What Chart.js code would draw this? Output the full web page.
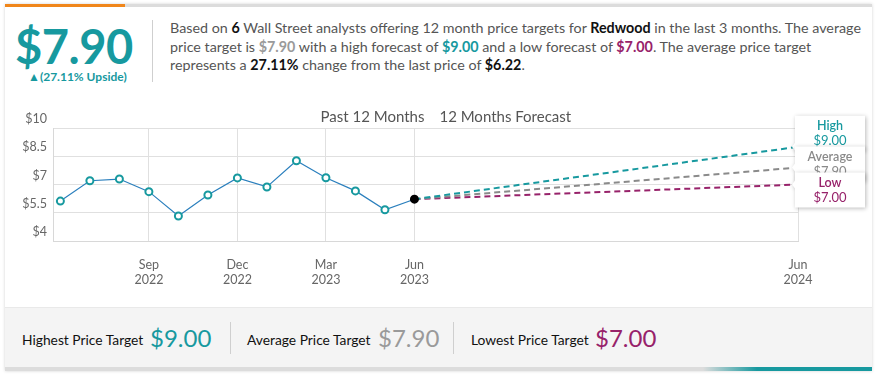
<!DOCTYPE html>
<html>
<head>
<meta charset="utf-8">
<script src="https://cdn.jsdelivr.net/npm/chart.js@4/dist/chart.umd.min.js"></script>
<style>
  body { margin: 0; background: #fff; font-family: Lato, "Open Sans", sans-serif; width: 876px; height: 376px; overflow: hidden; position: relative; }
  .abs { position: absolute; }
  #card { left: 5px; top: 4px; width: 867px; height: 367px; background: #fff; box-shadow: 0 0 3px rgba(0,0,0,0.18); }
  #barTop { left: 5px; top: 4px; width: 867px; height: 3px; background: #dcdcdc; }
  #barTopOrange { left: 5px; top: 4px; width: 120px; height: 3px; background: #f0861a; }
  #bigPrice { left: 15px; top: 18px; font-size: 47px; font-weight: 700; color: #17999f; letter-spacing: -0.5px; line-height: 56px; }
  #upside { left: 28px; top: 69px; font-size: 12px; font-weight: 700; color: #17999f; }
  #divTop { left: 152px; top: 20px; width: 1px; height: 62px; background: #cfcfcf; }
  #para { left: 170px; top: 19px; width: 700px; font-size: 14.3px; line-height: 18.5px; color: #555; }
  #para b { font-weight: 700; }
  #chartWrap { left: 0; top: 100px; width: 876px; height: 200px; }
  #footer { left: 5px; top: 307px; width: 867px; height: 60px; background: #f4f4f4; border-top: 1px solid #e9e9e9; }
  #barBottom { left: 5px; top: 367px; width: 867px; height: 4px; background: linear-gradient(to right, #dcdcdc 0px, #dcdcdc 698px, #17999f 752px, #17999f 867px); }
  .flab { font-size: 13.8px; color: #111; top: 331px; font-weight: 400; }
  .fval { font-size: 24px; top: 323px; }
  .fdiv { width: 1px; height: 32px; top: 322px; background: #cfcfcf; }
</style>
</head>
<body>
<div id="card" class="abs"></div>
<div id="barTop" class="abs"></div>
<div id="barTopOrange" class="abs"></div>
<div id="bigPrice" class="abs">$7.90</div>
<div id="upside" class="abs">▲(27.11% Upside)</div>
<div id="divTop" class="abs"></div>
<div id="para" class="abs">Based on <b style="color:#111">6</b> Wall Street analysts offering 12 month price targets for <b style="color:#111">Redwood</b> in the last 3 months. The average price target is <b style="color:#9a9a9a">$7.90</b> with a high forecast of <b style="color:#17999f">$9.00</b> and a low forecast of <b style="color:#97226a">$7.00</b>. The average price target represents a <b style="color:#111">27.11%</b> change from the last price of <b style="color:#111">$6.22</b>.</div>
<div id="chartWrap" class="abs"><canvas id="priceChart" width="876" height="200"></canvas></div>
<div id="footer" class="abs"></div>
<div id="barBottom" class="abs"></div>
<div class="abs flab" style="left:22px">Highest Price Target</div>
<div class="abs fval" style="left:150px;color:#17999f">$9.00</div>
<div class="abs fdiv" style="left:230px"></div>
<div class="abs flab" style="left:247px">Average Price Target</div>
<div class="abs fval" style="left:378px;color:#9a9a9a">$7.90</div>
<div class="abs fdiv" style="left:453px"></div>
<div class="abs flab" style="left:471px">Lowest Price Target</div>
<div class="abs fval" style="left:595px;color:#97226a">$7.00</div>
<script>
// month index 0 = Jun 2022
const pastMonths = [0, 1, 2, 3, 4, 5, 6, 7, 8, 9, 10, 11, 12];
const pastPrices = [6.12, 7.20, 7.29, 6.62, 5.33, 6.44, 7.35, 6.87, 8.26, 7.36, 6.66, 5.66, 6.22];
const forecastStart = 12;
const forecastEnd = 25;
const lastPrice = 6.22;
const highTarget = 9.00;
const avgTarget = 7.90;
const lowTarget = 7.00;
const xTickValues = [3, 6, 9, 12, 25];
const xTickLabels = [['Sep', '2022'], ['Dec', '2022'], ['Mar', '2023'], ['Jun', '2023'], ['Jun', '2024']];
const yTickValues = [4, 5.5, 7, 8.5, 10];

const teal = '#17999f';
const grey = '#8a8a8a';
const magenta = '#97226a';

const targetBoxes = [
    { title: 'High', value: highTarget, color: teal, shift: 31 },
    { title: 'Average', value: avgTarget, color: '#8a8a8a', shift: 21 },
    { title: 'Low', value: lowTarget, color: magenta, shift: 12 }
];

const overlayPlugin = {
    id: 'overlay',
    afterDraw(chart) {
        const ctx = chart.ctx;
        const xs = chart.scales.x, ys = chart.scales.y;
        const xNow = xs.getPixelForValue(forecastStart);
        ctx.save();
        ctx.font = '15px Lato, sans-serif';
        ctx.fillStyle = '#555';
        ctx.textBaseline = 'middle';
        ctx.textAlign = 'right';
        ctx.fillText('Past 12 Months', xNow + 10, 17);
        ctx.textAlign = 'left';
        ctx.fillText('12 Months Forecast', xNow + 25, 17);

        const xEnd = xs.getPixelForValue(forecastEnd);
        targetBoxes.forEach(b => {
            const yv = ys.getPixelForValue(b.value);
            const top = yv - b.shift;
            const left = xEnd - 3, w = 70, h = 35;
            ctx.save();
            ctx.shadowColor = 'rgba(0,0,0,0.28)';
            ctx.shadowBlur = 4;
            ctx.shadowOffsetX = 1;
            ctx.shadowOffsetY = 1;
            ctx.fillStyle = '#fff';
            ctx.beginPath();
            ctx.moveTo(left, top);
            ctx.lineTo(left + w, top);
            ctx.lineTo(left + w, top + h);
            ctx.lineTo(left, top + h);
            ctx.lineTo(left, Math.min(yv + 4, top + h));
            ctx.lineTo(left - 3, yv);
            ctx.lineTo(left, Math.max(yv - 4, top));
            ctx.closePath();
            ctx.fill();
            ctx.restore();
            ctx.fillStyle = b.color;
            ctx.textAlign = 'center';
            ctx.font = '600 12.5px Lato, sans-serif';
            ctx.fillText(b.title, left + w / 2, top + 10);
            ctx.font = '13px Lato, sans-serif';
            ctx.fillText('$' + b.value.toFixed(2), left + w / 2, top + 25);
        });
        ctx.restore();
    }
};

const ctx = document.getElementById('priceChart').getContext('2d');

new Chart(ctx, {
    type: 'line',
    data: {
        datasets: [{
            label: 'Price',
            data: pastMonths.map((m, i) => ({ x: m, y: pastPrices[i] })),
            borderColor: '#2a7fbd',
            borderWidth: 1.2,
            pointRadius: 3.5,
            pointBorderWidth: 2,
            pointBackgroundColor: pastMonths.map((m, i) => i === pastMonths.length - 1 ? '#000' : '#fff'),
            pointBorderColor: pastMonths.map((m, i) => i === pastMonths.length - 1 ? '#000' : teal),
            tension: 0,
            order: 0
        }, {
            label: 'High',
            data: [{ x: forecastStart, y: lastPrice }, { x: forecastEnd, y: highTarget }],
            borderColor: teal,
            borderWidth: 2,
            borderDash: [6, 4],
            pointRadius: 0,
            order: 1
        }, {
            label: 'Average',
            data: [{ x: forecastStart, y: lastPrice }, { x: forecastEnd, y: avgTarget }],
            borderColor: grey,
            borderWidth: 2,
            borderDash: [6, 4],
            pointRadius: 0,
            order: 1
        }, {
            label: 'Low',
            data: [{ x: forecastStart, y: lastPrice }, { x: forecastEnd, y: lowTarget }],
            borderColor: magenta,
            borderWidth: 2,
            borderDash: [6, 4],
            pointRadius: 0,
            order: 1
        }]
    },
    options: {
        responsive: false,
        animation: false,
        layout: { padding: { top: 28, right: 78, left: 0, bottom: 0 } },
        plugins: {
            legend: { display: false },
            tooltip: { enabled: false }
        },
        scales: {
            x: {
                type: 'linear',
                min: -0.25,
                max: forecastEnd,
                afterBuildTicks: axis => { axis.ticks = xTickValues.map(v => ({ value: v })); },
                afterFit: axis => { axis.height = 59; },
                ticks: {
                    autoSkip: false,
                    maxRotation: 0,
                    padding: 16,
                    color: '#666',
                    font: { family: 'Lato', size: 12.5, lineHeight: 1.2 },
                    callback: v => xTickLabels[xTickValues.indexOf(v)]
                },
                grid: { color: '#e0e0e0', drawTicks: false },
                border: { color: '#d8d8d8' }
            },
            y: {
                min: 4,
                max: 10,
                afterBuildTicks: axis => { axis.ticks = yTickValues.map(v => ({ value: v })); },
                afterFit: axis => { axis.width = 53; },
                ticks: {
                    padding: 6,
                    labelOffset: -9,
                    color: '#666',
                    font: { family: 'Lato', size: 12.5 },
                    callback: v => '$' + v
                },
                grid: { color: '#e0e0e0', drawTicks: false },
                border: { color: '#d8d8d8' }
            }
        }
    },
    plugins: [overlayPlugin]
});
</script>
</body>
</html>
